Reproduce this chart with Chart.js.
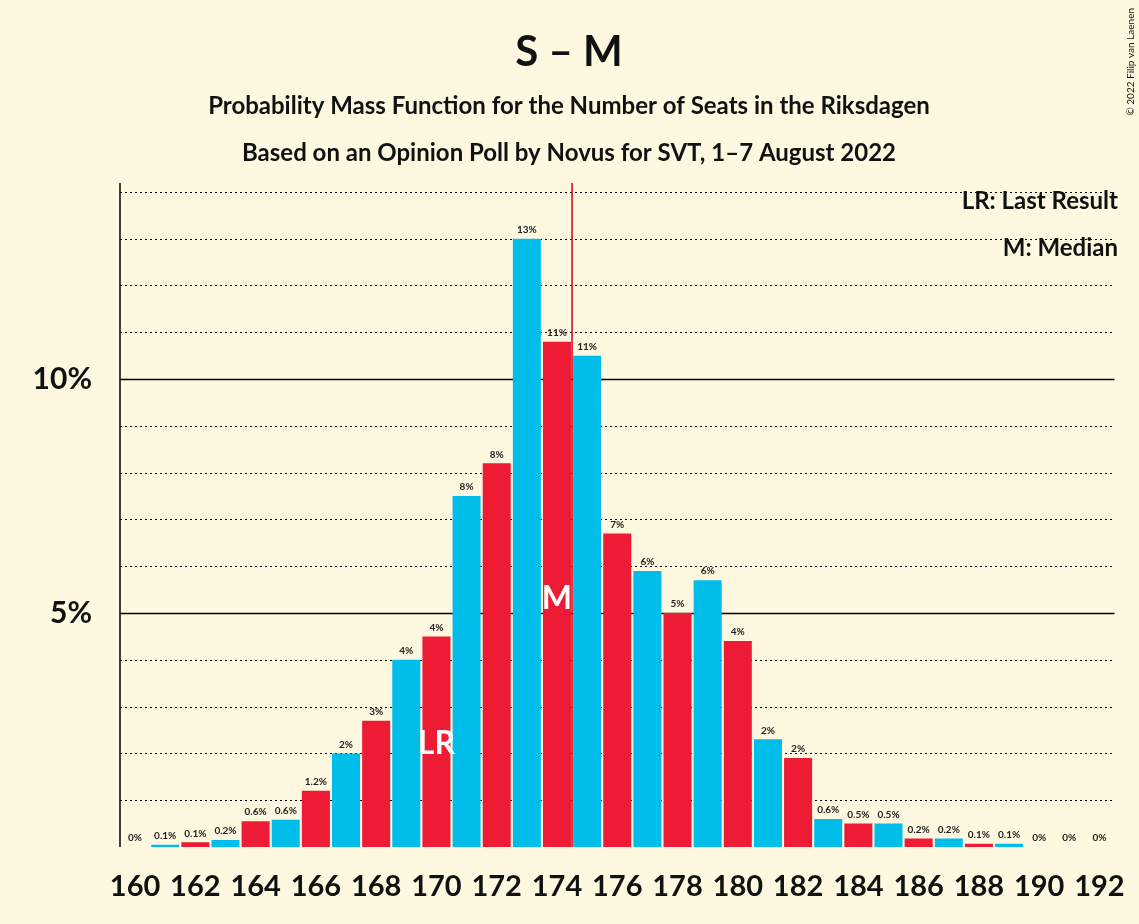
<!DOCTYPE html>
<html>
<head>
<meta charset="utf-8">
<script src="https://cdn.jsdelivr.net/npm/chart.js@4"></script>
<style>
  body { margin: 0; background: #FFF8E1; }
  #wrap { width: 1139px; height: 924px; position: relative; }
</style>
</head>
<body>
<div id="wrap"><canvas id="chart"></canvas></div>
<script>
const seats = [];
for (let s = 160; s <= 192; s++) seats.push(String(s));
const probs = [0, 0.05, 0.1, 0.15, 0.55, 0.58, 1.2, 2.0, 2.7, 4.0, 4.5, 7.5, 8.2, 13.0, 10.8, 10.5, 6.7, 5.9, 5.0, 5.7, 4.4, 2.3, 1.9, 0.6, 0.5, 0.5, 0.18, 0.18, 0.07, 0.07, 0, 0, 0];
const valueLabels = ['0%', '0.1%', '0.1%', '0.2%', '0.6%', '0.6%', '1.2%', '2%', '3%', '4%', '4%', '8%', '8%', '13%', '11%', '11%', '7%', '6%', '5%', '6%', '4%', '2%', '2%', '0.6%', '0.5%', '0.5%', '0.2%', '0.2%', '0.1%', '0.1%', '0%', '0%', '0%'];
const yTicks = [5, 10];
const lastResult = '170';
const median = '174';

const RED = '#ED1B34', BLUE = '#00BDEA';
const FONT = 'Lato, "Open Sans", sans-serif';

const decor = {
  id: 'decor',
  beforeDatasetsDraw(chart) {
    const { ctx, chartArea: a, scales: { x, y } } = chart;
    ctx.save();
    for (let v = 1; v <= 14; v++) {
      const py = Math.round(y.getPixelForValue(v)) + 0.5;
      ctx.beginPath();
      ctx.strokeStyle = '#000';
      if (v % 5 === 0) { ctx.setLineDash([]); ctx.lineWidth = 1.5; }
      else { ctx.setLineDash([2, 3]); ctx.lineWidth = 1; }
      ctx.moveTo(a.left, py); ctx.lineTo(a.right, py); ctx.stroke();
    }
    ctx.restore();
  },
  afterDatasetsDraw(chart) {
    const { ctx, chartArea: a, scales: { x, y } } = chart;
    ctx.save();
    // median line
    const mx = x.getPixelForValue(seats.indexOf(median)) + (x.getPixelForValue(1) - x.getPixelForValue(0)) / 2;
    ctx.strokeStyle = '#D0021B'; ctx.lineWidth = 1.5;
    ctx.beginPath(); ctx.moveTo(mx, a.top); ctx.lineTo(mx, a.bottom); ctx.stroke();
    // axis line
    ctx.strokeStyle = '#000'; ctx.lineWidth = 1.5;
    ctx.beginPath(); ctx.moveTo(a.left, a.top); ctx.lineTo(a.left, a.bottom); ctx.stroke();
    // value labels
    ctx.fillStyle = '#222'; ctx.font = 'bold 10px ' + FONT;
    ctx.textAlign = 'center'; ctx.textBaseline = 'bottom';
    probs.forEach((p, i) => {
      ctx.fillText(valueLabels[i], x.getPixelForValue(i), y.getPixelForValue(p) - 4);
    });
    // LR and M markers
    ctx.fillStyle = '#fff'; ctx.font = 'bold 32px ' + FONT; ctx.textBaseline = 'middle';
    ctx.fillText('LR', x.getPixelForValue(seats.indexOf(lastResult)), y.getPixelForValue(2.2));
    ctx.fillText('M', x.getPixelForValue(seats.indexOf(median)), y.getPixelForValue(5.3));
    // titles
    ctx.fillStyle = '#111'; ctx.textBaseline = 'alphabetic';
    ctx.font = 'bold 42px ' + FONT;
    ctx.fillText('S – M', 569, 66);
    ctx.font = 'bold 24px ' + FONT;
    ctx.fillText('Probability Mass Function for the Number of Seats in the Riksdagen', 569, 114);
    ctx.fillText('Based on an Opinion Poll by Novus for SVT, 1–7 August 2022', 569, 161);
    ctx.textAlign = 'right';
    ctx.fillText('LR: Last Result', 1118, 209);
    ctx.fillText('M: Median', 1118, 256);
    ctx.font = '10px ' + FONT;
    ctx.translate(1134, 8); ctx.rotate(-Math.PI / 2);
    ctx.fillText('© 2022 Filip van Laenen', 0, 0);
    ctx.restore();
  }
};

new Chart(document.getElementById('chart'), {
  type: 'bar',
  data: {
    labels: seats,
    datasets: [{
      data: probs,
      backgroundColor: seats.map(s => Number(s) % 2 === 0 ? RED : BLUE),
      barPercentage: 0.93,
      categoryPercentage: 1,
    }],
  },
  options: {
    responsive: true,
    maintainAspectRatio: false,
    animation: false,
    layout: { padding: { top: 183, right: 21, left: 0, bottom: 0 } },
    plugins: { legend: { display: false }, tooltip: { enabled: false } },
    scales: {
      x: {
        grid: { display: false },
        border: { display: false },
        afterFit: s => { s.height = 77; },
        ticks: {
          autoSkip: false, maxRotation: 0, color: '#111', padding: 14,
          font: { family: FONT, weight: 'bold', size: 29 },
          callback: (v, i) => i % 2 === 0 ? seats[i] : '',
        },
      },
      y: {
        min: 0, max: 14.19,
        grid: { display: false },
        border: { display: false },
        afterFit: s => { s.width = 120; },
        afterBuildTicks: s => { s.ticks = yTicks.map(v => ({ value: v })); },
        ticks: {
          color: '#111', padding: 20,
          font: { family: FONT, weight: 'bold', size: 30 },
          callback: v => v + '%',
        },
      },
    },
  },
  plugins: [decor],
});
</script>
</body>
</html>
